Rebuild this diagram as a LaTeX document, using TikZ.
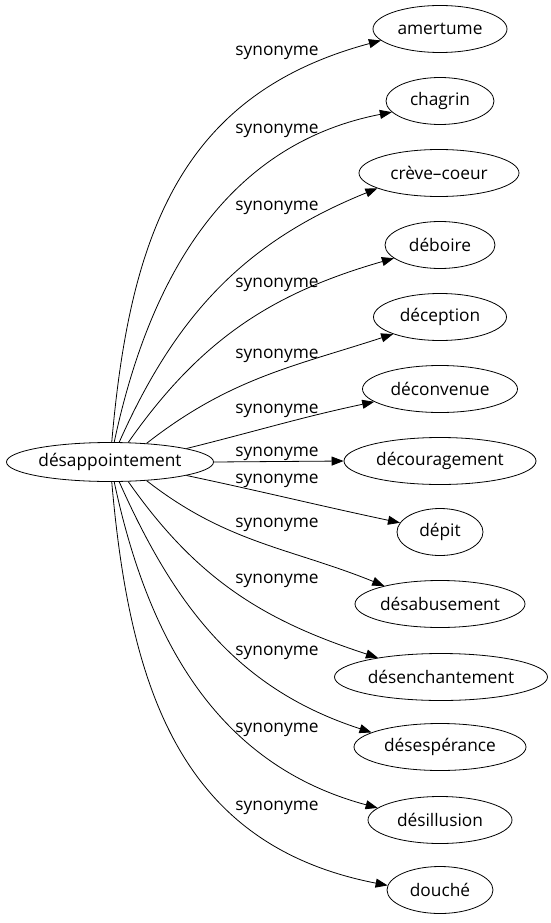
\documentclass[tikz,border=0pt]{standalone}
\usepackage{fontspec}
\setmainfont{Open Sans}
\usetikzlibrary{shapes.geometric,arrows.meta}

\tikzset{
	word/.style={draw, ellipse, inner sep=0pt, minimum height=47pt, line width=0.8pt},
	syn/.style={-{Triangle[length=12pt,width=9pt]}, line width=0.8pt},
	synlabel/.style={anchor=base, inner sep=0pt},
}

\begin{document}
\begin{tikzpicture}[x=1pt, y=-1pt, font=\fontsize{17.3}{20}\selectfont]
		\useasboundingbox (0,0) rectangle (550,923);

		\node [word, minimum width=207pt, minimum height=39pt] (desappointement) at (110,462) {désappointement};
		\node [word, minimum width=134pt] (amertume) at (440,29) {amertume};
		\node [word, minimum width=108pt] (chagrin) at (440,101) {chagrin};
		\node [word, minimum width=160pt] (crevecoeur) at (439,173) {crève–coeur};
		\node [word, minimum width=110pt] (deboire) at (440,245) {déboire};
		\node [word, minimum width=133pt] (deception) at (440,317) {déception};
		\node [word, minimum width=155pt] (deconvenue) at (440,389) {déconvenue};
		\node [word, minimum width=192pt] (decouragement) at (440,461) {découragement};
		\node [word, minimum width=86pt] (depit) at (440,532) {dépit};
		\node [word, minimum width=170pt] (desabusement) at (440,604) {désabusement};
		\node [word, minimum width=213pt] (desenchantement) at (441,677) {désenchantement};
		\node [word, minimum width=172pt] (desesperance) at (440,747) {désespérance};
		\node [word, minimum width=144pt] (desillusion) at (440,820) {désillusion};
		\node [word, minimum width=106pt] (douche) at (440,890) {douché};

		\node [synlabel] (l1) at (277,56) {synonyme};
		\node [synlabel] (l2) at (277,133) {synonyme};
		\node [synlabel] (l3) at (277,210) {synonyme};
		\node [synlabel] (l4) at (277,287) {synonyme};
		\node [synlabel] (l5) at (277,358) {synonyme};
		\node [synlabel] (l6) at (277,413) {synonyme};
		\node [synlabel] (l7) at (277,456) {synonyme};
		\node [synlabel] (l8) at (277,483) {synonyme};
		\node [synlabel] (l9) at (277,527) {synonyme};
		\node [synlabel] (l10) at (277,583) {synonyme};
		\node [synlabel] (l11) at (277,655) {synonyme};
		\node [synlabel] (l12) at (277,732) {synonyme};
		\node [synlabel] (l13) at (277,810) {synonyme};

		\draw [syn] (desappointement.85) to [out=85, in=195, looseness=1.1] (amertume.191);
		\draw [syn] (desappointement.78) to [out=78, in=191] (chagrin.193);
		\draw [syn] (desappointement.65) to [out=66, in=202] (crevecoeur.194);
		\draw [syn] (desappointement.47) to [out=55, in=196] (deboire.196);
		\draw [syn] (desappointement.27) to [out=38, in=198] (deception.200);
		\draw [syn] (desappointement.10) to [out=14, in=192] (deconvenue.191);
		\draw [syn] (desappointement.east) -- (decouragement.west);
		\draw [syn] (desappointement.-10) to [out=-12, in=168] (depit.167);
		\draw [syn] (desappointement.-27) to [out=-38, in=158] (desabusement.162);
		\draw [syn] (desappointement.-47) to [out=-55, in=162] (desenchantement.163);
		\draw [syn] (desappointement.-65) to [out=-66, in=162] (desesperance.168);
		\draw [syn] (desappointement.-78) to [out=-78, in=165] (desillusion.169);
		\draw [syn] (desappointement.-85) to [out=-85, in=169, looseness=1.1] (douche.175);
\end{tikzpicture}
\end{document}
